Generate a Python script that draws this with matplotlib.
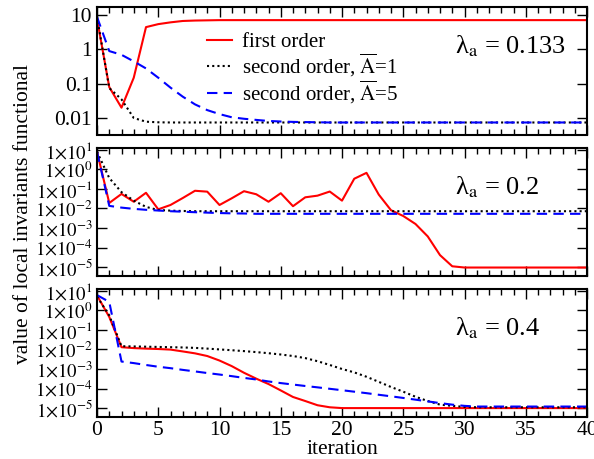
import numpy as np
import matplotlib
matplotlib.use('Agg')
import matplotlib.pyplot as plt
from matplotlib.ticker import LogLocator, MultipleLocator, FixedLocator, FixedFormatter, NullFormatter

plt.rcParams['font.family'] = 'serif'
plt.rcParams['font.serif'] = ['Liberation Serif', 'DejaVu Serif']
plt.rcParams['mathtext.fontset'] = 'stix'

# iterations
it = np.arange(0, 41)

# lambda_a = 0.133
p1_first = [8, 0.08, 0.02, 0.15, 4.5, 5.5, 6.2, 6.8, 7.0, 7.1] + [7.2] * 31
p1_second1 = [9, 0.075, 0.035, 0.01, 0.0078, 0.0075] + [0.0074] * 35
p1_second5 = [9, 0.9, 0.7, 0.45, 0.28, 0.15, 0.077, 0.042, 0.025, 0.017,
              0.013, 0.0105, 0.0095, 0.0088, 0.0082, 0.0079, 0.0077, 0.0076,
              0.0075] + [0.0074] * 22

# lambda_a = 0.2
p2_first = [8, 0.019, 0.055, 0.022, 0.063, 0.009, 0.015, 0.034, 0.08, 0.072,
            0.015, 0.033, 0.076, 0.053, 0.022, 0.06, 0.013, 0.037, 0.045, 0.073,
            0.025, 0.33, 0.66, 0.051, 0.0081, 0.0041, 0.0016, 0.00037, 4.1e-5,
            1.1e-5] + [9.5e-6] * 11
p2_second1 = [8, 0.36, 0.068, 0.025, 0.012, 0.0083, 0.0077, 0.0074] + [0.0072] * 33
p2_second5 = [8, 0.0135, 0.011, 0.0095, 0.0085, 0.0078, 0.0072, 0.0068, 0.0064,
              0.0061, 0.0058, 0.0056, 0.0055] + [0.0053] * 28

# lambda_a = 0.4
p3_first = [5.8, 0.46, 0.013, 0.0117, 0.011, 0.0105, 0.0098, 0.0079, 0.0063,
            0.0046, 0.0027, 0.0014, 0.00064, 0.00032, 0.00017, 8e-5, 3.7e-5,
            2.3e-5, 1.4e-5, 1.1e-5] + [1.0e-5] * 21
p3_second1 = [5, 0.55, 0.0146, 0.0142, 0.0138, 0.0134, 0.013, 0.0126, 0.012,
              0.011, 0.01, 0.0091, 0.0082, 0.0073, 0.0064, 0.0055, 0.0046, 0.0036,
              0.0025, 0.0016, 0.001, 6.7e-4, 4e-4, 2.2e-4, 1.2e-4, 6.9e-5, 3.8e-5,
              2.3e-5, 1.5e-5, 1.3e-5, 1.15e-5] + [1.1e-5] * 10
p3_second5 = [6, 2.7, 0.0024, 0.002, 0.0016, 0.0013, 0.0011, 0.0009, 0.00075,
              0.00062, 0.00052, 0.00043, 0.00035, 0.00029, 0.00023, 0.00019,
              0.00016, 0.000135, 0.000115, 9.7e-5, 8.2e-5, 6.9e-5, 5.8e-5, 4.8e-5,
              4e-5, 3.3e-5, 2.7e-5, 2.2e-5, 1.8e-5, 1.5e-5, 1.3e-5] + [1.2e-5] * 10

lambdas = ['0.133', '0.2', '0.4']
labels = ['first order', r'second order, $\overline{\mathrm{A}}$=1',
          r'second order, $\overline{\mathrm{A}}$=5']
p1_ticks = [10, 1, 0.1, 0.01]
p1_ticklabels = ['10', '1', '0.1', '0.01']
exp_ticks = [1, 0, -1, -2, -3, -4, -5]

W, H = 594, 459
fig = plt.figure(figsize=(W / 100, H / 100), dpi=100)
left, right = 97 / W, 587 / W
tops = [7, 148, 289]
h = 127.5
axes = []
for t in tops:
    axes.append(fig.add_axes([left, 1 - (t + h) / H, right - left, h / H]))

data = [(p1_first, p1_second1, p1_second5),
        (p2_first, p2_second1, p2_second5),
        (p3_first, p3_second1, p3_second5)]

for i, ax in enumerate(axes):
    f, s1, s5 = data[i]
    ax.plot(it, f, color='red', lw=1.5, label=labels[0])
    ax.plot(it, s1, color='black', lw=1.5, ls=(0, (1, 1.5)), label=labels[1])
    ax.plot(it, s5, color='blue', lw=1.5, ls=(0, (5, 3)), label=labels[2])
    ax.set_yscale('log')
    ax.set_xlim(0, 40)
    ax.xaxis.set_major_locator(MultipleLocator(5))
    ax.xaxis.set_minor_locator(MultipleLocator(1))
    ax.tick_params(which='both', direction='in', top=True, right=True,
                   labelsize=15.5, width=1)
    ax.tick_params(which='major', length=7)
    ax.tick_params(which='minor', length=4)
    for sp in ax.spines.values():
        sp.set_linewidth(1.5)
    ax.yaxis.set_minor_locator(LogLocator(base=10, subs=np.arange(2, 10)))
    ax.yaxis.set_minor_formatter(NullFormatter())
    ax.text(0.73, 0.69, r'λ$_{\mathrm{a}}$ = ' + lambdas[i], transform=ax.transAxes,
            fontsize=19, va='center', ha='left')
    if i < 2:
        ax.tick_params(labelbottom=False)

axes[0].set_ylim(0.0033, 17.4)
axes[0].yaxis.set_major_locator(FixedLocator(p1_ticks))
axes[0].yaxis.set_major_formatter(FixedFormatter(p1_ticklabels))
for ax in axes[1:]:
    ax.set_ylim(10 ** -5.43, 10 ** 1.09)
    ax.yaxis.set_major_locator(FixedLocator([10.0 ** e for e in exp_ticks]))
    ax.yaxis.set_major_formatter(FixedFormatter([r'$1{\times}10^{%d}$' % e for e in exp_ticks]))
    ax.tick_params(axis='y', labelsize=13.5, pad=3)

axes[0].legend(loc='upper left', bbox_to_anchor=(0.2245, 0.80), frameon=False,
               fontsize=15, handlelength=1.2, handletextpad=0.5, labelspacing=0.0,
               borderaxespad=0, borderpad=0)
axes[2].set_xlabel('iteration', fontsize=15.5, labelpad=0)
fig.text(24 / W, 1 - 214 / H, 'value of local invariants functional', rotation=90,
         fontsize=15.5, ha='center', va='center')

fig.savefig('out.png', dpi=100)
